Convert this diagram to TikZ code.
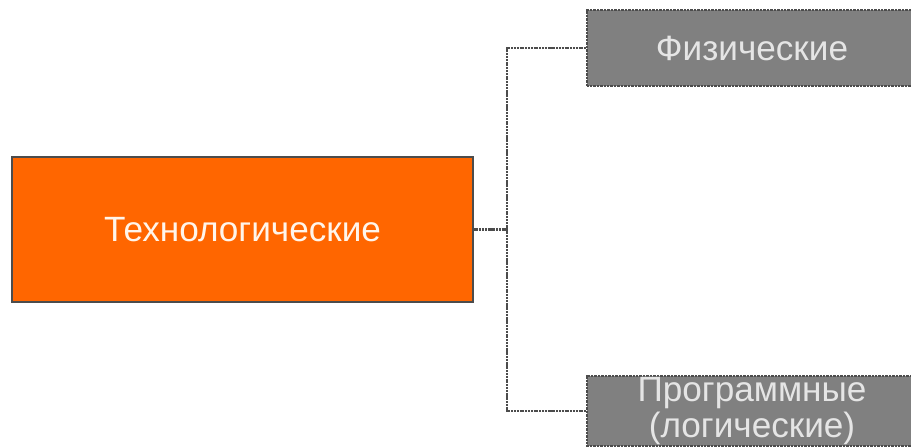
\documentclass[tikz,border=0pt]{standalone}
\usepackage{fontspec}
\setmainfont{Liberation Sans}
\usetikzlibrary{calc}
\definecolor{TechClr}{rgb}{1,0.4,0}
\definecolor{SubClr}{rgb}{0.5,0.5,0.5}
\definecolor{LinkClr}{rgb}{0.3,0.3,0.3}

\tikzset{
  techbox/.style={draw=LinkClr,line width=0.6pt,fill=TechClr,text=white!92!orange,
    minimum width=9.22cm,minimum height=2.9cm,inner sep=0pt,
    font=\fontsize{20}{20.5}\selectfont},
  subbox/.style={draw=LinkClr,line width=0.6pt,dash pattern=on 0.5pt off 0.3pt,
    fill=SubClr,text=white!90!black,minimum width=6.6cm,inner sep=0pt,align=center,
    font=\fontsize{20}{20.5}\selectfont},
  link/.style={LinkClr,line width=1.3pt,dash pattern=on 1.2pt off 0.4pt}
}

\begin{document}
\begin{tikzpicture}
\useasboundingbox (0,0) rectangle (18.22,8.94);

\node[techbox] (tech) at (4.85,4.35) {Технологические};
\node[subbox,minimum height=1.52cm] (fiz) at (15.04,7.98) {Физические};
\node[subbox,minimum height=1.4cm] (prog) at (15.04,0.72) {Программные\\(логические)};

\coordinate (jn) at (10.14,4.35);

\draw[link] (tech.east) -- (jn);
\draw[link] (jn) |- (fiz.west);
\draw[link] (jn) |- (prog.west);

\end{tikzpicture}
\end{document}
